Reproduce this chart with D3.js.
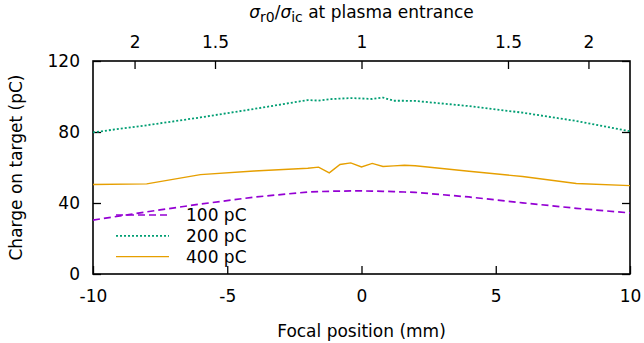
<!DOCTYPE html>
<html>
<head>
<meta charset="utf-8">
<script src="https://cdn.jsdelivr.net/npm/d3@7"></script>
<style>
  html, body { margin: 0; padding: 0; background: #fff; }
  svg { display: block; font-family: "DejaVu Sans", sans-serif; }
</style>
</head>
<body>
<svg id="chart" width="644" height="343"></svg>
<script>
// Focal positions (mm) at which the charge was evaluated
const focalPos = [-10, -8, -6, -4, -2, -1.6, -1.2, -0.8, -0.4, 0, 0.4, 0.8, 1.2, 1.6, 2, 4, 6, 8, 10];

// Charge on target (pC) for each injected bunch charge
const charge100 = [30.4, 35.0, 39.4, 43.3, 46.2, 46.4, 46.6, 46.7, 46.8, 46.8, 46.7, 46.6, 46.4, 46.2, 46.0, 43.4, 40.1, 37.0, 34.4];
const charge200 = [79.8, 83.8, 88.2, 93.0, 98.0, 97.7, 98.5, 98.8, 99.1, 98.9, 98.6, 99.4, 97.6, 97.6, 97.5, 94.6, 90.9, 86.2, 80.4];
const charge400 = [50.4, 50.8, 56.0, 58.0, 59.6, 60.2, 57.0, 61.7, 62.6, 60.3, 62.3, 60.6, 60.9, 61.3, 61.0, 57.9, 54.9, 51.0, 49.8];

const seriesNames = ["100 pC", "200 pC", "400 pC"];

// Axis ticks
const xTicks = [-10, -5, 0, 5, 10];
const yTicks = [0, 40, 80, 120];
// Top axis: beam size ratio sigma_r0/sigma_ic at the plasma entrance,
// on either side of the focus (side -1 upstream, +1 downstream)
const topRatios = [2, 1.5, 1, 1.5, 2];
const topSides = [-1, -1, 0, 1, 1];
const betaStar = 4.88; // mm, sets where each ratio falls on the focal axis

const svg = d3.select("#chart");
const margin = { left: 93, right: 14, top: 61, bottom: 69 };
const W = 644, H = 343;
const x = d3.scaleLinear().domain([-10, 10]).range([margin.left, W - margin.right]);
const y = d3.scaleLinear().domain([0, 120]).range([H - margin.bottom, margin.top]);

const fontSize = 17;
const tick = 8;
const plainNumber = d => String(d);

function styleAxis(g) {
  g.select(".domain").remove();
  g.selectAll(".tick line").attr("stroke", "#000").attr("stroke-width", 1.3);
  g.selectAll(".tick text").attr("fill", "#000").attr("font-size", fontSize)
    .attr("font-family", "DejaVu Sans, sans-serif");
}

// Bottom axis
svg.append("g")
  .attr("transform", `translate(0,${y(0)})`)
  .call(d3.axisBottom(x).tickValues(xTicks).tickSize(-tick).tickPadding(16).tickFormat(plainNumber))
  .call(styleAxis);

// Left axis
svg.append("g")
  .attr("transform", `translate(${x(-10)},0)`)
  .call(d3.axisLeft(y).tickValues(yTicks).tickSize(-tick).tickPadding(13).tickFormat(plainNumber))
  .call(styleAxis);

// Right mirror ticks
svg.append("g")
  .attr("transform", `translate(${x(10)},0)`)
  .call(d3.axisRight(y).tickValues(yTicks).tickSize(-tick).tickFormat(""))
  .call(styleAxis);

// Top axis with the beam size ratio
const topPos = topRatios.map((r, i) => topSides[i] * betaStar * Math.sqrt(r * r - 1));
const topLabel = new Map(topPos.map((p, i) => [p, topRatios[i]]));
svg.append("g")
  .attr("transform", `translate(0,${y(120)})`)
  .call(d3.axisTop(x).tickValues(topPos).tickSize(-tick).tickPadding(13)
    .tickFormat(d => String(topLabel.get(d))))
  .call(styleAxis);

// Border
svg.append("rect")
  .attr("x", x(-10)).attr("y", y(120))
  .attr("width", x(10) - x(-10)).attr("height", y(0) - y(120))
  .attr("fill", "none").attr("stroke", "#000").attr("stroke-width", 1.6);

// Series
const series = [
  { name: seriesNames[0], values: charge100, color: "#9400d3", dash: "7,4", width: 1.7 },
  { name: seriesNames[1], values: charge200, color: "#009e73", dash: "2,2", width: 1.8 },
  { name: seriesNames[2], values: charge400, color: "#e69f00", dash: null, width: 1.4 }
];

const line = d3.line().x(d => x(d[0])).y(d => y(d[1]));

series.forEach(s => {
  svg.append("path")
    .datum(focalPos.map((p, i) => [p, s.values[i]]))
    .attr("d", line)
    .attr("fill", "none")
    .attr("stroke", s.color)
    .attr("stroke-width", s.width)
    .attr("stroke-dasharray", s.dash);
});

// Legend
const legend = svg.append("g");
series.forEach((s, i) => {
  const ly = 215 + i * 20.8;
  legend.append("line")
    .attr("x1", 116).attr("x2", 169).attr("y1", ly).attr("y2", ly)
    .attr("stroke", s.color).attr("stroke-width", s.width)
    .attr("stroke-dasharray", s.dash);
  legend.append("text")
    .attr("x", 186).attr("y", ly + 6.2)
    .attr("font-size", fontSize).attr("fill", "#000")
    .text(s.name);
});

// Axis titles
svg.append("text")
  .attr("x", x(0)).attr("y", 337)
  .attr("text-anchor", "middle").attr("font-size", fontSize)
  .text("Focal position (mm)");

svg.append("text")
  .attr("transform", `translate(21.5,${(y(0) + y(120)) / 2}) rotate(-90)`)
  .attr("text-anchor", "middle").attr("font-size", fontSize)
  .text("Charge on target (pC)");

const topTitle = svg.append("text")
  .attr("x", x(0)).attr("y", 18)
  .attr("text-anchor", "middle").attr("font-size", fontSize);
topTitle.append("tspan").attr("font-style", "italic").text("σ");
topTitle.append("tspan").attr("font-size", 14).attr("dy", 4).text("r0");
topTitle.append("tspan").attr("dy", -4).text("/");
topTitle.append("tspan").attr("font-style", "italic").text("σ");
topTitle.append("tspan").attr("font-size", 14).attr("dy", 4).text("ic");
topTitle.append("tspan").attr("dy", -4).text(" at plasma entrance");
</script>
</body>
</html>
